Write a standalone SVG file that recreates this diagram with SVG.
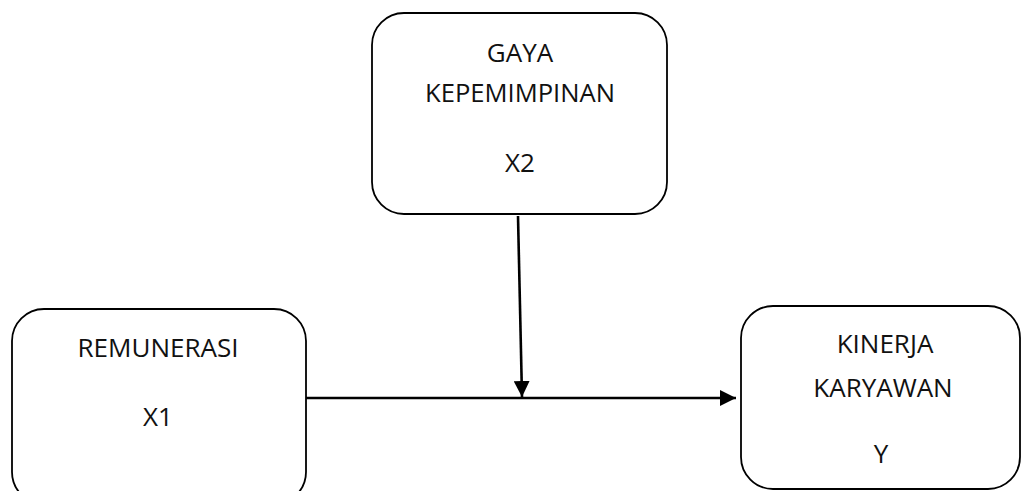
<svg xmlns="http://www.w3.org/2000/svg" width="1022" height="491" viewBox="0 0 1022 491">
<style>
.box{fill:#fff;stroke:#000;stroke-width:1.8}
.t{font-family:"Open Sans","Liberation Sans",sans-serif;font-size:26px;fill:#111;text-anchor:middle}
.c{stroke:#000;stroke-width:2.6;fill:none}
</style>
<defs>
<marker id="ah" viewBox="0 0 10 10" refX="10" refY="5" markerWidth="16" markerHeight="16" markerUnits="userSpaceOnUse" orient="auto">
<path d="M0,0 L10,5 L0,10 Z" fill="#000"/>
</marker>
</defs>
<rect width="1022" height="491" fill="#fff"/>
<g id="gaya">
<rect class="box" x="372" y="13" width="295" height="201" rx="32"/>
<text class="t" x="520" y="62">GAYA</text>
<text class="t" x="520" y="102" textLength="190" lengthAdjust="spacingAndGlyphs">KEPEMIMPINAN</text>
<text class="t" x="520" y="172">X2</text>
</g>
<g id="remunerasi">
<rect class="box" x="12" y="309" width="294" height="195" rx="32"/>
<text class="t" x="158" y="357" textLength="161" lengthAdjust="spacingAndGlyphs">REMUNERASI</text>
<text class="t" x="158" y="426">X1</text>
</g>
<g id="kinerja">
<rect class="box" x="741" y="306" width="279" height="183" rx="32"/>
<text class="t" x="885" y="353">KINERJA</text>
<text class="t" x="883" y="397">KARYAWAN</text>
<text class="t" x="881" y="463">Y</text>
</g>
<g id="connectors">
<line class="c" x1="306" y1="398" x2="736" y2="398" marker-end="url(#ah)"/>
<line class="c" x1="518" y1="216" x2="522" y2="397" marker-end="url(#ah)"/>
</g>
</svg>
